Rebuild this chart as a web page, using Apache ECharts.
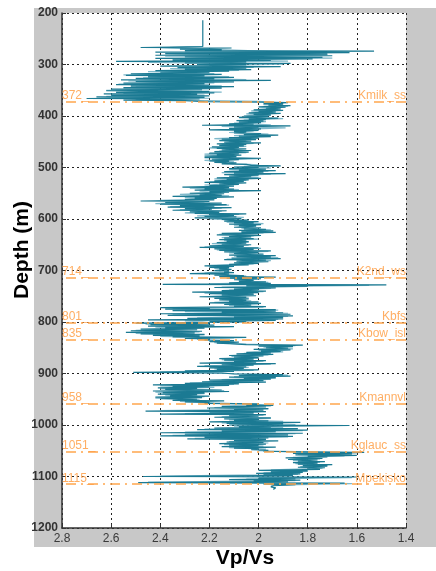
<!DOCTYPE html>
<html><head><meta charset="utf-8">
<script src="https://cdn.jsdelivr.net/npm/echarts@6/dist/echarts.min.js"></script>
<style>html,body{margin:0;padding:0;background:#fff}#c{width:436px;height:571px}</style>
</head><body><div id="c"></div>
<script>
// Formation tops
const TOP_DEPTHS = [372, 714, 801, 835, 958, 1051, 1115];
const TOP_NAMES = ['Kmilk_ss', 'K2nd_ws', 'Kbfs', 'Kbow_isl', 'Kmannvl', 'Kglauc_ss', 'Mpekisko'];
const TOP_LABELS = ['372_', '714_', '801_', '835_', '958_', '1051_', '1115_'];
const X_TICKS = [1.4, 1.6, 1.8, 2.0, 2.2, 2.4, 2.6, 2.8];

// Vp/Vs log, dark trace: [depth m, Vp/Vs]
const DARK_LOG = [
[214,2.227],[265,2.227],[266,2.23],[267,2.48],[268,2.11],[270,2.32],[271,2.15],[273,2.30],[274,1.53],[276,2.42],[277,1.63],[279,2.38],[280,1.72],[282,2.42],[283,1.70],[285,2.30],[286,1.74],[288,2.42],[289,1.78],[291,2.35],[292,1.95],[294,2.58],[295,2.05],[297,2.30],[298,1.87],[300,2.25],
[301,2.05],[303,2.40],[304,1.91],[306,2.33],[307,2.05],[309,2.30],[310,2.03],[312,2.42],[313,2.12],[315,2.40],[316,2.20],[318,2.52],[319,2.15],[321,2.54],[322,2.22],[324,2.45],[325,2.10],[327,2.50],[328,2.18],[330,2.56],[331,1.95],[333,2.50],[334,2.10],[336,2.55],[337,2.22],[339,2.58],[340,2.20],[342,2.52],[343,2.10],[345,2.55],[346,2.15],[348,2.60],[349,2.23],[351,2.62],[352,2.20],[354,2.58],[355,2.18],[357,2.63],[358,2.25],[360,2.60],[361,2.20],[363,2.66],[364,2.22],[366,2.70],[367,2.24],[369,2.55],[370,2.30],
[372,2.22],[373,1.99],[374,1.88],[376,1.98],[377,1.90],[379,1.96],[380,1.87],[382,2.00],[383,1.89],[385,1.97],[386,1.91],[388,2.02],[389,1.90],[391,2.00],[392,1.93],[394,2.04],[395,1.91],[397,2.02],[398,1.95],[400,2.06],[401,1.96],[403,2.08],[404,1.92],[406,2.04],[407,1.97],[409,2.09],[410,1.98],[412,2.08],[413,1.99],[415,2.12],[416,2.02],[418,2.23],[419,1.87],[421,2.10],[422,2.00],[424,2.12],[425,1.99],[427,2.20],[428,2.00],[430,2.10],[431,2.05],[433,2.10],[434,1.99],[436,2.06],[437,1.92],[439,2.08],[440,1.95],[442,2.12],[443,2.00],[445,2.15],[446,2.01],[448,2.16],[449,2.03],[451,2.14],[452,1.99],[454,2.17],[455,2.05],[457,2.16],[458,2.06],[460,2.19],[461,2.08],[463,2.17],[464,2.05],[466,2.15],[467,2.03],[469,2.18],[470,2.04],[472,2.20],[473,2.08],[475,2.17],[476,2.07],[478,2.22],[479,2.09],[481,2.22],[482,1.99],[484,2.19],[485,2.08],[487,2.20],[488,2.12],[490,2.18],[491,2.09],[493,2.15],[494,2.05],[496,2.03],[497,1.91],[499,2.10],[500,2.00],
[502,2.12],[503,1.97],[505,2.08],[506,1.93],[508,2.14],[509,1.98],[511,2.10],[512,1.89],[514,2.14],[515,2.00],[517,2.12],[518,2.03],[520,2.17],[521,1.99],[523,2.13],[524,2.04],[526,2.18],[527,2.06],[529,2.22],[530,2.05],[532,2.16],[533,2.08],[535,2.20],[536,2.10],[538,2.31],[539,2.12],[541,2.22],[542,2.10],[544,2.26],[545,1.99],[547,2.20],[548,2.12],[550,2.28],[551,2.14],[553,2.24],[554,2.15],[556,2.35],[557,2.10],[559,2.26],[560,2.17],[562,2.30],[563,2.18],[565,2.48],[566,2.20],[568,2.38],[569,2.15],[571,2.40],[572,2.13],[574,2.32],[575,2.18],[577,2.37],[578,2.11],[580,2.30],[581,2.19],[583,2.35],[584,2.13],[586,2.28],[587,2.16],[589,2.26],[590,2.05],[592,2.20],[593,2.10],[595,2.22],[596,2.09],[598,2.26],[599,2.07],
[601,2.15],[602,2.04],[604,2.14],[605,2.00],[607,2.10],[608,2.02],[610,2.12],[611,1.99],[613,2.08],[614,2.01],[616,2.10],[617,1.99],[619,2.06],[620,1.97],[622,2.08],[623,1.94],[625,2.07],[626,1.93],[628,2.15],[629,2.00],[631,2.17],[632,1.99],[634,2.12],[635,2.03],[637,2.14],[638,2.02],[640,2.16],[641,2.05],[643,2.13],[644,2.04],[646,2.17],[647,2.05],[649,2.15],[650,2.03],[652,2.20],[653,2.06],[655,2.24],[656,2.00],[658,2.18],[659,2.02],[661,2.16],[662,1.95],[664,2.14],[665,2.00],[667,2.10],[668,1.98],[670,2.12],[671,1.93],[673,2.09],[674,1.95],[676,2.11],[677,1.91],[679,2.14],[680,1.97],[682,2.09],[683,1.96],[685,2.10],[686,2.00],[688,2.12],[689,2.04],[691,2.22],[692,2.10],[694,2.20],[695,2.12],[697,2.16],[698,2.11],
[700,2.18],[701,2.12],[703,2.14],[704,2.10],[706,2.28],[707,2.12],[709,2.18],[710,2.06],[712,2.16],[713,1.93],[715,2.13],[716,1.99],[718,2.10],[719,2.02],[721,2.08],[722,1.97],[724,2.12],[725,1.95],[727,2.39],[728,1.48],[730,2.05],[731,1.80],[733,2.18],[734,1.93],[736,2.10],[737,2.00],[739,2.15],[740,1.97],[742,2.27],[743,2.00],[745,2.20],[746,2.02],[748,2.15],[749,2.01],[751,2.24],[752,2.05],[754,2.18],[755,2.04],[757,2.16],[758,2.05],[760,2.12],[761,2.00],[763,2.20],[764,1.99],[766,2.14],[767,2.03],[769,2.10],[770,1.97],[772,2.40],[773,2.20],[775,2.38],[776,1.93],[778,2.35],[779,1.93],[781,2.15],[782,1.90],[784,2.40],[785,1.87],[787,2.37],[788,1.86],[790,2.10],[791,1.90],[793,2.29],[794,1.90],[796,2.45],[797,1.93],[799,2.20],
[800,2.05],[802,2.50],[803,2.20],[805,2.44],[806,2.18],[808,2.45],[809,2.10],[811,2.38],[812,2.22],[814,2.48],[815,2.25],[817,2.52],[818,2.23],[820,2.54],[821,2.26],[823,2.48],[824,2.22],[826,2.43],[827,2.24],[829,2.35],[830,2.05],[832,2.30],[833,2.20],[835,2.22],[836,2.10],[838,2.20],[839,2.08],[841,2.17],[842,2.12],[844,2.05],[845,1.82],[847,2.00],[848,1.86],[850,1.97],[851,1.88],[853,2.02],[854,1.87],[856,1.99],[857,1.91],[859,2.05],[860,1.95],[862,2.09],[863,1.94],[865,2.12],[866,1.98],[868,2.10],[869,2.00],[871,2.16],[872,2.02],[874,2.14],[875,1.97],[877,2.10],[878,2.01],[880,2.24],[881,1.93],[883,2.15],[884,2.02],[886,2.25],[887,2.05],[889,2.20],[890,2.06],[892,2.17],[893,2.00],[895,2.30],[896,2.10],[898,2.51],[899,2.15],
[901,2.10],[902,1.90],[904,2.08],[905,1.87],[907,2.12],[908,1.93],[910,2.06],[911,1.95],[913,2.20],[914,1.98],[916,2.23],[917,1.97],[919,2.30],[920,2.08],[922,2.43],[923,2.12],[925,2.35],[926,2.20],[928,2.41],[929,2.25],[931,2.38],[932,2.15],[934,2.43],[935,2.12],[937,2.39],[938,2.22],[940,2.41],[941,2.25],[943,2.36],[944,2.20],[946,2.42],[947,2.23],[949,2.40],[950,2.25],[952,2.35],[953,2.14],[955,2.30],[956,2.20],[958,2.22],[959,2.00],[961,2.05],[962,1.94],[964,2.15],[965,1.97],[967,2.21],[968,1.96],[970,2.10],[971,1.98],[973,2.46],[974,1.97],[976,2.20],[977,2.02],[979,2.40],[980,1.97],[982,2.12],[983,2.00],[985,2.18],[986,1.95],[988,2.14],[989,2.00],[991,2.10],[992,1.96],[994,2.20],[995,1.83],[997,2.13],[998,1.90],
[1000,2.12],[1001,1.63],[1003,2.08],[1004,1.95],[1006,2.18],[1007,1.84],[1009,2.25],[1010,1.80],[1012,2.15],[1013,1.93],[1015,2.40],[1016,1.82],[1018,2.30],[1019,1.88],[1021,2.40],[1022,1.86],[1024,2.22],[1025,1.96],[1027,2.29],[1028,1.97],[1030,2.10],[1031,1.92],[1033,2.13],[1034,1.98],[1036,2.16],[1037,1.97],[1039,2.12],[1040,2.00],[1042,2.15],[1043,1.93],[1045,2.10],[1046,2.00],[1048,2.03],[1049,1.96],[1051,1.98],[1052,1.83],[1053,1.57],[1055,1.86],[1056,1.62],[1058,1.85],[1059,1.60],[1061,1.80],[1062,1.72],[1064,1.89],[1065,1.74],[1067,1.88],[1068,1.76],[1070,1.84],[1071,1.73],[1073,1.86],[1074,1.76],[1076,1.84],[1077,1.70],[1079,1.82],[1080,1.72],[1082,1.84],[1083,1.73],[1085,1.80],[1086,1.75],[1088,2.00],[1089,1.80],[1091,1.95],[1092,1.82],[1094,2.01],[1095,1.83],[1097,1.98],[1098,1.86],
[1100,2.47],[1101,1.60],[1103,2.00],[1104,1.85],[1106,2.12],[1107,1.83],[1109,2.02],[1110,1.88],[1112,2.49],[1113,1.65],[1115,1.98],[1116,1.85],[1118,1.94],[1120,1.95],[1122,1.93],[1125,1.94]
];

// Vp/Vs log, light trace: [depth m, Vp/Vs]
const LIGHT_LOG = [
[265,2.23],[267.5,2.40],[272,2.10],[275.5,1.90],[278,2.30],[281.5,1.72],[284,2.38],[287.5,1.70],[290,2.32],[293.5,1.88],[296,2.45],[299.5,1.90],
[302,2.20],[305.5,2.02],[308,2.36],[311.5,2.08],[314,2.45],[317.5,2.18],[320,2.55],[323.5,2.12],[326,2.47],[329.5,2.05],[332,2.53],[335.5,2.18],[338,2.57],[341.5,2.15],[344,2.50],[347.5,2.20],[350,2.62],[353.5,2.15],[356,2.55],[359.5,2.22],[362,2.62],[365.5,2.20],[368,2.50],[371.5,2.00],
[375,1.90],[378,1.98],[381,1.88],[384,2.00],[387,1.92],[390,2.03],[393,1.94],[396,2.05],[399,1.95],[402,2.08],[405,1.90],[408,2.06],[411,1.97],[414,2.10],[417,1.95],[420,2.15],[423,1.89],[426,2.08],[429,2.02],[432,2.12],[435,1.96],[438,2.10],[441,2.00],[444,2.18],[447,2.05],[450,2.12],[453,2.02],[456,2.15],[459,2.05],[462,2.20],[465,2.08],[468,2.16],[471,2.05],[474,2.22],[477,2.10],[480,2.20],[483,2.00],[486,2.22],[489,2.10],[492,2.12],[495,2.00],[498,2.06],
[501,1.95],[504,2.12],[507,1.96],[510,2.15],[513,1.95],[516,2.10],[519,2.00],[522,2.18],[525,2.05],[528,2.20],[531,2.08],[534,2.22],[537,2.12],[540,2.28],[543,2.08],[546,2.24],[549,2.15],[552,2.32],[555,2.12],[558,2.30],[561,2.18],[564,2.40],[567,2.22],[570,2.42],[573,2.12],[576,2.36],[579,2.15],[582,2.32],[585,2.15],[588,2.30],[591,2.08],[594,2.25],[597,2.06],
[600,2.20],[603,2.05],[606,2.13],[609,1.98],[612,2.10],[615,2.02],[618,2.07],[621,1.95],[624,2.05],[627,1.98],[630,2.16],[633,2.02],[636,2.15],[639,2.00],[642,2.14],[645,2.04],[648,2.19],[651,2.04],[654,2.22],[657,1.99],[660,2.17],[663,1.96],[666,2.12],[669,1.98],[672,2.10],[675,1.92],[678,2.13],[681,1.95],[684,2.08],[687,2.02],[690,2.20],[693,2.12],[696,2.18],[699,2.12],
[702,2.16],[705,2.22],[708,2.12],[711,2.05],[714,2.12],[717,2.00],[720,2.08],[723,1.96],[726,2.20],[729,1.55],[732,2.15],[735,1.95],[738,2.12],[741,1.98],[744,2.22],[747,2.02],[750,2.20],[753,2.04],[756,2.15],[759,2.03],[762,2.18],[765,2.00],[768,2.12],[771,1.98],[774,2.35],[777,1.92],[780,2.30],[783,1.88],[786,2.35],[789,1.88],[792,2.25],[795,1.92],[798,2.30],
[801,2.20],[804,2.46],[807,2.20],[810,2.42],[813,2.25],[816,2.50],[819,2.24],[822,2.50],[825,2.22],[828,2.40],[831,2.10],[834,2.25],[837,2.12],[840,2.18],[843,2.05],[846,1.85],[849,1.98],[852,1.86],[855,2.00],[858,1.90],[861,2.06],[864,1.96],[867,2.11],[870,2.00],[873,2.15],[876,1.98],[879,2.20],[882,1.95],[885,2.22],[888,2.04],[891,2.18],[894,2.02],[897,2.40],
[900,2.12],[903,1.88],[906,2.10],[909,1.93],[912,2.15],[915,1.97],[918,2.28],[921,2.10],[924,2.40],[927,2.18],[930,2.40],[933,2.14],[936,2.42],[939,2.22],[942,2.38],[945,2.22],[948,2.42],[951,2.24],[954,2.32],[957,2.18],[960,2.02],[963,1.95],[966,2.18],[969,1.96],[972,2.40],[975,2.00],[978,2.30],[981,1.98],[984,2.15],[987,1.95],[990,2.12],[993,1.90],[996,2.15],[999,1.85],
[1002,2.10],[1005,1.90],[1008,2.22],[1011,1.82],[1014,2.30],[1017,1.85],[1020,2.35],[1023,1.88],[1026,2.26],[1029,1.97],[1032,2.12],[1035,1.96],[1038,2.14],[1041,1.98],[1044,2.12],[1047,1.97],[1050,2.00],[1054,1.60],[1057,1.84],[1060,1.65],[1063,1.86],[1066,1.75],[1069,1.86],[1072,1.75],[1075,1.85],[1078,1.72],[1081,1.83],[1084,1.74],[1087,1.95],[1090,1.80],[1093,1.98],[1096,1.84],[1099,2.40],
[1102,1.62],[1105,2.05],[1108,1.85],[1111,2.45],[1114,1.62],[1117,1.95]
];

const chart = echarts.init(document.getElementById('c'), null, {renderer: 'canvas'});
const ORANGE = '#ff9a3c';
const dotted = {color: '#222', type: [2, 3], width: 1};
const axisLine = {show: true, onZero: false, lineStyle: {color: '#333', width: 1.5}};

chart.setOption({
  animation: false,
  backgroundColor: '#fff',
  graphic: [
    {type: 'rect', z: -100, silent: true, shape: {x: 34, y: 8, width: 402, height: 539}, style: {fill: '#c8c8c8'}},
    {type: 'text', x: 22, y: 250, rotation: Math.PI / 2, silent: true,
     style: {text: 'Depth (m)', font: 'bold 21px "Liberation Sans"', fill: '#000', textAlign: 'center', textVerticalAlign: 'middle'}},
    {type: 'text', x: 245, y: 558, silent: true,
     style: {text: 'Vp/Vs', font: 'bold 21px "Liberation Sans"', fill: '#000', textAlign: 'center', textVerticalAlign: 'middle'}}
  ],
  grid: {left: 62, top: 13, width: 344, height: 515, show: true, backgroundColor: '#fff', borderWidth: 0},
  xAxis: {
    type: 'value', inverse: true, min: 1.4, max: 2.8, interval: 0.2, position: 'bottom',
    axisLine: axisLine,
    axisTick: {show: true, inside: true, length: 4, lineStyle: {color: '#333'}},
    axisLabel: {color: '#3a3a3a', fontSize: 12, margin: 5, fontFamily: 'Liberation Sans',
      formatter: v => { const t = X_TICKS.find(x => Math.abs(x - v) < 1e-6); return String(+((t !== undefined ? t : v).toFixed(1))); }},
    splitLine: {show: true, lineStyle: dotted}
  },
  yAxis: {
    type: 'value', inverse: true, min: 200, max: 1200, interval: 100,
    axisLine: axisLine,
    axisTick: {show: true, inside: true, length: 4, lineStyle: {color: '#333'}},
    axisLabel: {color: '#333', fontSize: 12, fontWeight: 'bold', margin: 4, fontFamily: 'Liberation Sans',
      formatter: v => String(Math.round(v))},
    splitLine: {show: true, lineStyle: dotted}
  },
  series: [
    {type: 'line', name: 'light', z: 2, showSymbol: false, symbol: 'none',
     lineStyle: {color: '#7fb9cb', width: 1.2}, data: LIGHT_LOG.map(p => [p[1], p[0]])},
    {type: 'line', name: 'dark', z: 3, showSymbol: false, symbol: 'none',
     lineStyle: {color: '#1b7a93', width: 1.2}, data: DARK_LOG.map(p => [p[1], p[0]])},
    {type: 'scatter', name: 'tops', z: 5, symbolSize: 0, silent: true,
     data: TOP_DEPTHS.map((d, i) => ({value: [2.8, d], label: {formatter: TOP_LABELS[i]}})),
     label: {show: true, position: 'right', distance: 0, offset: [0, -6], color: ORANGE, fontSize: 12, fontFamily: 'Liberation Sans'},
     markLine: {silent: true, symbol: 'none', label: {show: false},
       lineStyle: {color: '#ffa64d', type: [10, 5, 2, 5], width: 1.5},
       data: TOP_DEPTHS.map(d => ({yAxis: d}))}},
    {type: 'scatter', name: 'names', z: 5, symbolSize: 0, silent: true,
     data: TOP_DEPTHS.map((d, i) => ({value: [1.4, d], label: {formatter: TOP_NAMES[i]}})),
     label: {show: true, position: 'left', distance: 0, offset: [0, -6], color: ORANGE, fontSize: 12, fontFamily: 'Liberation Sans'}}
  ]
});
</script></body></html>
